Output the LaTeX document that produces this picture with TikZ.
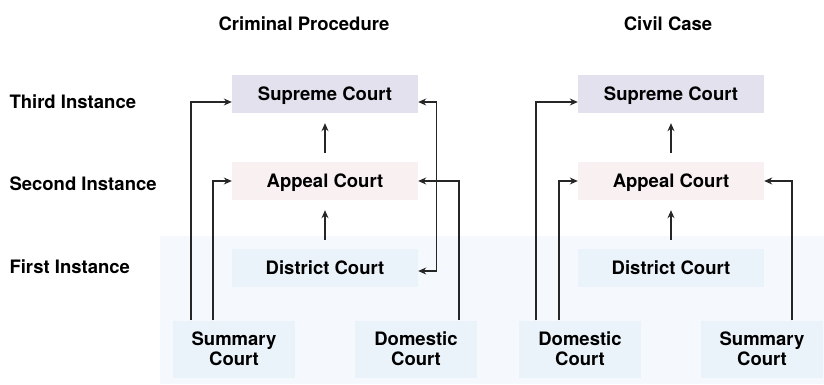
\documentclass[tikz,border=0pt]{standalone}
\usepackage{fontspec}
\setmainfont{TeX Gyre Heros}
\usetikzlibrary{arrows.meta}
\definecolor{supfill}{RGB}{227,225,238}
\definecolor{appfill}{RGB}{248,240,241}
\definecolor{disfill}{RGB}{235,243,250}
\definecolor{bandfill}{RGB}{245,248,252}
\tikzset{
  txt/.style={font=\bfseries\fontsize{18.5}{20}\selectfont},
  court/.style={txt, minimum width=186pt, minimum height=38pt, inner sep=0pt, text height=13.3pt, text depth=0pt},
  lowcourt/.style={txt, fill=disfill, minimum width=122pt, minimum height=57pt, inner sep=0pt, align=center},
  rowname/.style={txt, anchor=base west},
  title/.style={txt, anchor=base},
  feed/.style={draw=black!85, line width=1.1pt, -{Stealth[length=8pt,width=7pt]}}
}
\begin{document}
\begin{tikzpicture}[x=1pt,y=-1pt]
\useasboundingbox (0,0) rectangle (824,384);
\fill[bandfill] (160,236) rectangle (824,384);
\node[title] (crim) at (304,30.5) {Criminal Procedure};
\node[title] (civil) at (668,30.5) {Civil Case};
\node[rowname] (third) at (6,108) {Third Instance};
\node[rowname] (second) at (6,190) {Second Instance};
\node[rowname] (first) at (6,273) {First Instance};
\node[court, fill=supfill] (supL) at (325,94) {Supreme Court};
\node[court, fill=appfill] (appL) at (325,181) {Appeal Court};
\node[court, fill=disfill] (disL) at (325,268) {District Court};
\node[lowcourt] (sumL) at (234,349) {Summary\\Court};
\node[lowcourt] (domL) at (416,349) {Domestic\\Court};
\node[court, fill=supfill] (supR) at (671,94) {Supreme Court};
\node[court, fill=appfill] (appR) at (671,181) {Appeal Court};
\node[court, fill=disfill] (disR) at (671,268) {District Court};
\node[lowcourt] (domR) at (580,349) {Domestic\\Court};
\node[lowcourt] (sumR) at (762,349) {Summary\\Court};
\draw[feed, shorten <=9pt, shorten >=10pt] (appL.north) -- (supL.south);
\draw[feed, shorten <=9pt, shorten >=10pt] (disL.north) -- (appL.south);
\draw[feed] ([xshift=-43pt]sumL.north) |- ([yshift=-8pt]supL.west);
\draw[feed] ([xshift=-21pt]sumL.north) |- (appL.west);
\draw[feed, {Stealth[length=8pt,width=7pt]}-{Stealth[length=8pt,width=7pt]}] ([yshift=-8pt]supL.east) -- ++(18,0) |- ([yshift=-3pt]disL.east);
\draw[feed] ([xshift=43pt]domL.north) |- (appL.east);
\draw[feed, shorten <=9pt, shorten >=10pt] (appR.north) -- (supR.south);
\draw[feed, shorten <=9pt, shorten >=10pt] (disR.north) -- (appR.south);
\draw[feed] ([xshift=-44pt]domR.north) |- ([yshift=-8pt]supR.west);
\draw[feed] ([xshift=-21pt]domR.north) |- (appR.west);
\draw[feed] ([xshift=30pt]sumR.north) |- (appR.east);
\end{tikzpicture}
\end{document}
